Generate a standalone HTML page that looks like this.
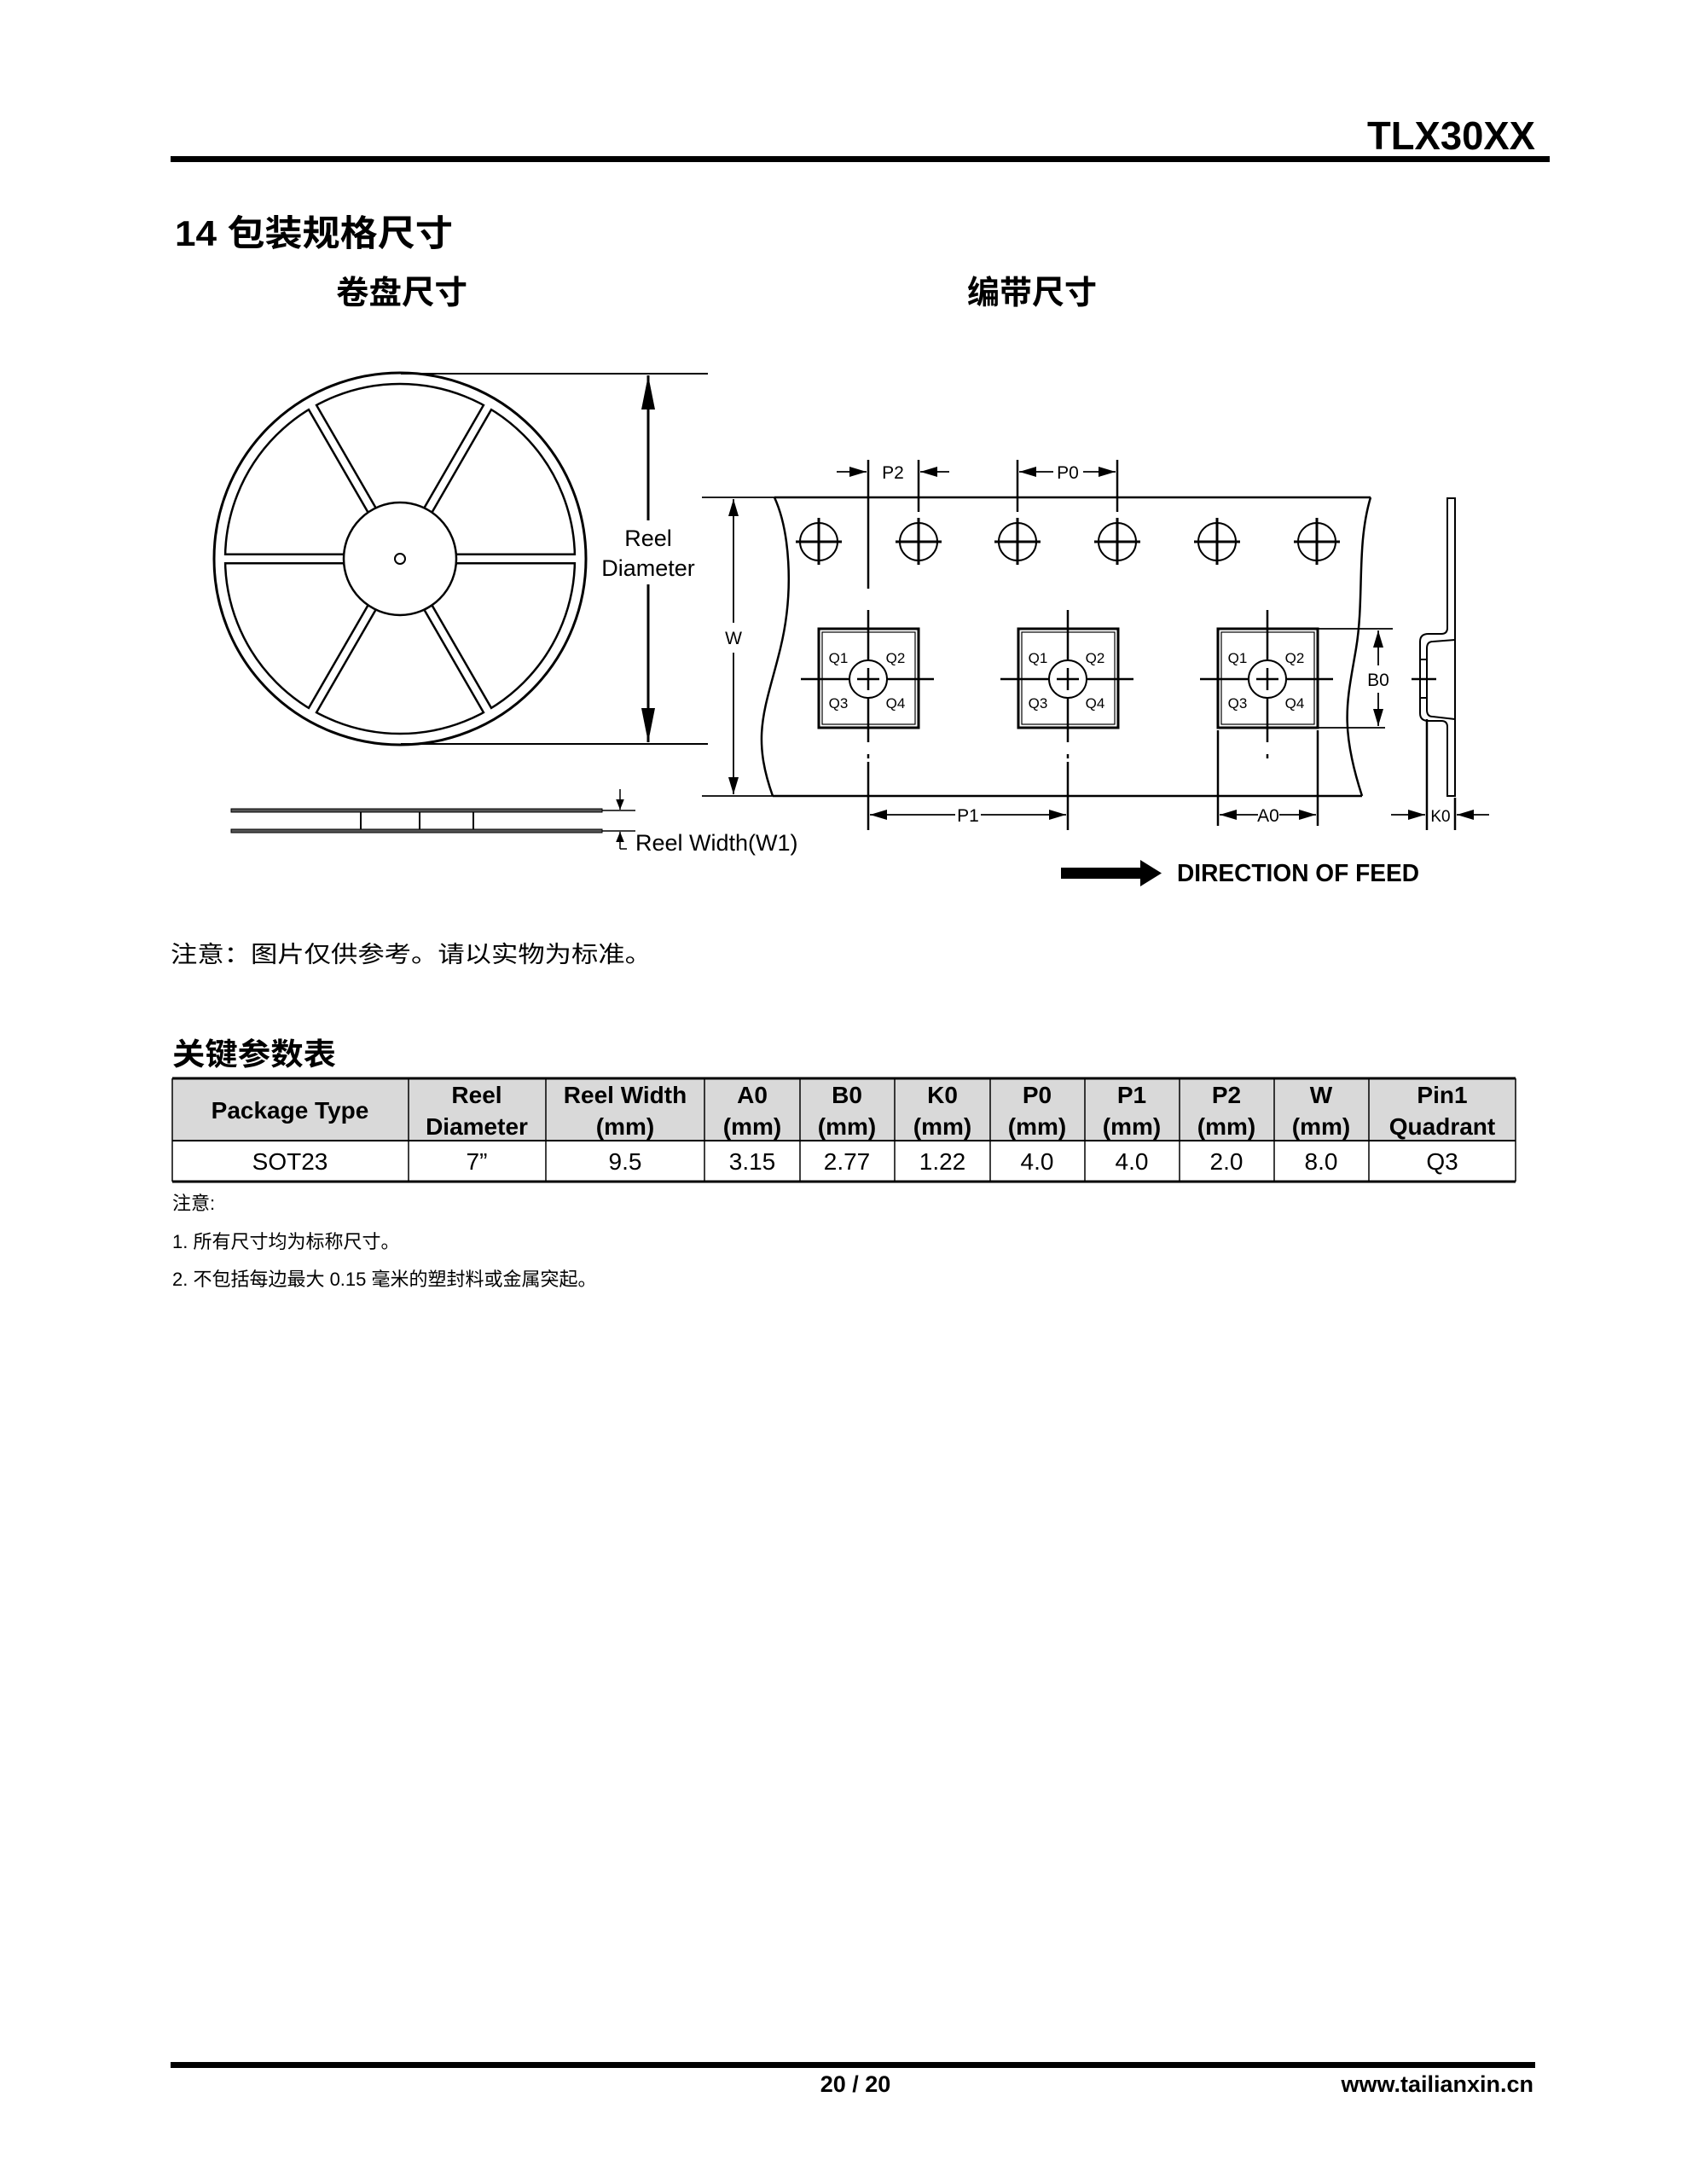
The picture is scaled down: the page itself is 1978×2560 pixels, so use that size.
<!DOCTYPE html>
<html><head><meta charset="utf-8"><style>
html,body{margin:0;padding:0;background:#fff}
svg{display:block}
text{font-family:"Liberation Sans","Noto Sans CJK SC",sans-serif;fill:#000}
</style></head><body>
<svg width="1978" height="2560" viewBox="0 0 1978 2560" xmlns="http://www.w3.org/2000/svg">
<defs>
<marker id="ar" viewBox="0 0 10 10" refX="10" refY="5" markerWidth="12" markerHeight="12" markerUnits="userSpaceOnUse" orient="auto"><path d="M0,1 L10,5 L0,9 Z" fill="#000"/></marker>
<marker id="ab" viewBox="0 0 10 10" refX="10" refY="5" markerWidth="20" markerHeight="20" markerUnits="userSpaceOnUse" orient="auto"><path d="M0,2 L10,5 L0,8 Z" fill="#000"/></marker>
<marker id="abig" viewBox="0 0 10 10" refX="10" refY="5" markerWidth="40" markerHeight="40" markerUnits="userSpaceOnUse" orient="auto"><path d="M0,3 L10,5 L0,7 Z" fill="#000"/></marker>
</defs>
<!-- header -->
<text x="1800" y="175" font-size="46" font-weight="bold" text-anchor="end" textLength="197" lengthAdjust="spacingAndGlyphs">TLX30XX</text>
<rect x="200" y="183" width="1617" height="7" fill="#000"/>
<text x="205" y="288" font-size="42" font-weight="bold" textLength="326" lengthAdjust="spacingAndGlyphs">14 包装规格尺寸</text>
<text x="394" y="356" font-size="38" font-weight="bold" textLength="154" lengthAdjust="spacingAndGlyphs">卷盘尺寸</text>
<text x="1134" y="356" font-size="38" font-weight="bold" textLength="152" lengthAdjust="spacingAndGlyphs">编带尺寸</text>

<!-- reel -->
<g fill="none" stroke="#000">
<circle cx="469" cy="655" r="218" stroke-width="3"/>
<circle cx="469" cy="655" r="205" stroke-width="2.5" fill="#fff"/>
</g>
<g transform="translate(469,655)">
<g stroke="#000" stroke-width="13">
<line x1="0" y1="0" x2="205" y2="0"/><line x1="0" y1="0" x2="-205" y2="0"/>
<line x1="0" y1="0" x2="102.5" y2="177.5"/><line x1="0" y1="0" x2="-102.5" y2="177.5"/>
<line x1="0" y1="0" x2="102.5" y2="-177.5"/><line x1="0" y1="0" x2="-102.5" y2="-177.5"/>
</g>
<g stroke="#fff" stroke-width="8">
<line x1="0" y1="0" x2="208" y2="0"/><line x1="0" y1="0" x2="-208" y2="0"/>
<line x1="0" y1="0" x2="104" y2="180.1"/><line x1="0" y1="0" x2="-104" y2="180.1"/>
<line x1="0" y1="0" x2="104" y2="-180.1"/><line x1="0" y1="0" x2="-104" y2="-180.1"/>
</g>
<circle cx="0" cy="0" r="66" fill="#fff" stroke="#000" stroke-width="2.5"/>
<circle cx="0" cy="0" r="6" fill="none" stroke="#000" stroke-width="2"/>
</g>
<!-- diameter dim -->
<g stroke="#000" stroke-width="2">
<line x1="470" y1="438" x2="830" y2="438"/>
<line x1="470" y1="872" x2="830" y2="872"/>
<line x1="760" y1="610" x2="760" y2="440" stroke-width="3" marker-end="url(#abig)"/>
<line x1="760" y1="685" x2="760" y2="870" stroke-width="3" marker-end="url(#abig)"/>
</g>
<text x="760" y="640" font-size="27" text-anchor="middle">Reel</text>
<text x="760" y="675" font-size="27" text-anchor="middle">Diameter</text>
<!-- side view -->
<g stroke="#000">
<rect x="271" y="948" width="435" height="4" fill="#555" stroke-width="1"/>
<rect x="271" y="972" width="435" height="4" fill="#555" stroke-width="1"/>
<line x1="423" y1="952" x2="423" y2="972" stroke-width="2"/>
<line x1="492" y1="952" x2="492" y2="972" stroke-width="2"/>
<line x1="555" y1="952" x2="555" y2="972" stroke-width="2"/>
<line x1="706" y1="950" x2="745" y2="950" stroke-width="1.5"/>
<line x1="706" y1="974" x2="745" y2="974" stroke-width="1.5"/>
<line x1="727" y1="925" x2="727" y2="949" stroke-width="1.5" marker-end="url(#ar)"/>
<line x1="727" y1="995" x2="727" y2="975" stroke-width="1.5" marker-end="url(#ar)"/>
<line x1="727" y1="995" x2="735" y2="995" stroke-width="1.5"/>
</g>
<text x="745" y="997" font-size="27">Reel Width(W1)</text>

<!-- tape -->
<g fill="none" stroke="#000" stroke-width="2.5">
<line x1="908" y1="583" x2="1607" y2="583"/>
<line x1="906" y1="933" x2="1597" y2="933"/>
<path d="M908 583 C925 620 932 690 915 760 S880 860 906 933"/>
<path d="M1607 583 C1590 640 1600 700 1590 760 S1570 850 1597 933"/>
</g>
<g stroke="#000" stroke-width="2" fill="none">
<g id="h"><circle cx="960" cy="635" r="22"/><line x1="933" y1="635" x2="987" y2="635" stroke-width="3"/><line x1="960" y1="607" x2="960" y2="662" stroke-width="3"/></g>
<use href="#h" x="117"/><use href="#h" x="233"/><use href="#h" x="350"/><use href="#h" x="467"/><use href="#h" x="584"/>
</g>
<!-- dimension lines top -->
<g stroke="#000" stroke-width="2.5">
<line x1="1018" y1="539" x2="1018" y2="690"/>
<line x1="1077" y1="539" x2="1077" y2="600"/>
<line x1="1193" y1="539" x2="1193" y2="600"/>
<line x1="1310" y1="539" x2="1310" y2="600"/>
</g>
<g stroke="#000" stroke-width="1.8">
<line x1="981" y1="553" x2="1016" y2="553" marker-end="url(#ab)"/>
<line x1="1113" y1="553" x2="1079" y2="553" marker-end="url(#ab)"/>
<line x1="1235" y1="553" x2="1195" y2="553" marker-end="url(#ab)"/>
<line x1="1270" y1="553" x2="1308" y2="553" marker-end="url(#ab)"/>
</g>
<text x="1047" y="561" font-size="21" text-anchor="middle">P2</text>
<rect x="1236" y="540" width="33" height="26" fill="#fff"/>
<text x="1252" y="561" font-size="21" text-anchor="middle">P0</text>
<!-- pockets -->
<g id="pk" fill="none" stroke="#000">
<rect x="960" y="737" width="117" height="116" stroke-width="3"/>
<rect x="964" y="741" width="109" height="108" stroke-width="1.2"/>
<line x1="939" y1="796" x2="1095" y2="796" stroke-width="2.5"/>
<line x1="1018" y1="715" x2="1018" y2="870" stroke-width="2.5"/>
<circle cx="1018" cy="796" r="22" fill="#fff" stroke-width="2"/>
<line x1="1005" y1="796" x2="1031" y2="796" stroke-width="2.5"/>
<line x1="1018" y1="783" x2="1018" y2="809" stroke-width="2.5"/>
<line x1="1018" y1="884" x2="1018" y2="889" stroke-width="2.5"/>
<text x="983" y="777" font-size="17" stroke="none" text-anchor="middle">Q1</text>
<text x="1050" y="777" font-size="17" stroke="none" text-anchor="middle">Q2</text>
<text x="983" y="830" font-size="17" stroke="none" text-anchor="middle">Q3</text>
<text x="1050" y="830" font-size="17" stroke="none" text-anchor="middle">Q4</text>
</g>
<use href="#pk" x="234"/><use href="#pk" x="468"/>
<!-- P1, A0 -->
<g stroke="#000" stroke-width="2.5">
<line x1="1018" y1="893" x2="1018" y2="973"/>
<line x1="1252" y1="893" x2="1252" y2="973"/>
<line x1="1428" y1="856" x2="1428" y2="968"/>
<line x1="1545" y1="856" x2="1545" y2="968"/>
</g>
<g stroke="#000" stroke-width="1.8">
<line x1="1120" y1="955" x2="1020" y2="955" marker-end="url(#ab)"/>
<line x1="1150" y1="955" x2="1250" y2="955" marker-end="url(#ab)"/>
<line x1="1475" y1="955" x2="1430" y2="955" marker-end="url(#ab)"/>
<line x1="1500" y1="955" x2="1543" y2="955" marker-end="url(#ab)"/>
</g>
<text x="1135" y="963" font-size="21" text-anchor="middle">P1</text>
<text x="1487" y="963" font-size="21" text-anchor="middle">A0</text>
<!-- W -->
<g stroke="#000" stroke-width="1.8">
<line x1="823" y1="583" x2="908" y2="583"/>
<line x1="823" y1="933" x2="906" y2="933"/>
<line x1="860" y1="730" x2="860" y2="585" marker-end="url(#ab)"/>
<line x1="860" y1="765" x2="860" y2="931" marker-end="url(#ab)"/>
</g>
<text x="860" y="755" font-size="21" text-anchor="middle">W</text>
<!-- B0 -->
<g stroke="#000" stroke-width="1.8">
<line x1="1545" y1="737" x2="1633" y2="737"/>
<line x1="1545" y1="853" x2="1624" y2="853"/>
<line x1="1616" y1="780" x2="1616" y2="739" marker-end="url(#ab)"/>
<line x1="1616" y1="812" x2="1616" y2="851" marker-end="url(#ab)"/>
</g>
<text x="1616" y="804" font-size="21" text-anchor="middle">B0</text>
<!-- K0 profile -->
<g fill="none" stroke="#000" stroke-width="2">
<path d="M1697 584 L1706 584 L1706 933 L1697 933 L1697 852 Q1697 845 1690 845 L1675 845 Q1665 845 1665 836 L1665 752 Q1665 743 1675 743 L1690 743 Q1697 743 1697 736 Z"/>
<path d="M1706 750 L1680 752 Q1673 752 1673 760 L1673 832 Q1673 840 1680 840 L1706 843"/>
<line x1="1665" y1="773" x2="1673" y2="773"/><line x1="1665" y1="818" x2="1673" y2="818"/>
<line x1="1655" y1="796" x2="1684" y2="796" stroke-width="2.5"/>
<line x1="1673" y1="843" x2="1673" y2="973" stroke-width="2.5"/>
<line x1="1706" y1="935" x2="1706" y2="973" stroke-width="2.5"/>
</g>
<g stroke="#000" stroke-width="1.8">
<line x1="1631" y1="955" x2="1671" y2="955" marker-end="url(#ab)"/>
<line x1="1746" y1="955" x2="1708" y2="955" marker-end="url(#ab)"/>
</g>
<text x="1689" y="963" font-size="19" text-anchor="middle">K0</text>
<!-- direction -->
<rect x="1244" y="1017" width="95" height="13" fill="#000"/>
<path d="M1337 1008 L1362 1023.5 L1337 1039 Z" fill="#000"/>
<text x="1380" y="1033" font-size="29" font-weight="bold" textLength="284" lengthAdjust="spacingAndGlyphs">DIRECTION OF FEED</text>

<text x="200" y="1128" font-size="27" textLength="564" lengthAdjust="spacingAndGlyphs">注意：图片仅供参考。请以实物为标准。</text>
<text x="202" y="1248" font-size="36" font-weight="bold" textLength="192" lengthAdjust="spacingAndGlyphs">关键参数表</text>

<!-- table -->
<rect x="202" y="1265" width="1575" height="72" fill="#d9d9d9"/>
<g stroke="#000" fill="none">
<line x1="202" y1="1264" x2="1777" y2="1264" stroke-width="3"/>
<line x1="202" y1="1337" x2="1777" y2="1337" stroke-width="2"/>
<line x1="202" y1="1385" x2="1777" y2="1385" stroke-width="3"/>
<g stroke-width="1.5">
<line x1="202" y1="1264" x2="202" y2="1385"/><line x1="479" y1="1264" x2="479" y2="1385"/>
<line x1="640" y1="1264" x2="640" y2="1385"/><line x1="826" y1="1264" x2="826" y2="1385"/>
<line x1="938" y1="1264" x2="938" y2="1385"/><line x1="1049" y1="1264" x2="1049" y2="1385"/>
<line x1="1161" y1="1264" x2="1161" y2="1385"/><line x1="1272" y1="1264" x2="1272" y2="1385"/>
<line x1="1383" y1="1264" x2="1383" y2="1385"/><line x1="1494" y1="1264" x2="1494" y2="1385"/>
<line x1="1605" y1="1264" x2="1605" y2="1385"/><line x1="1777" y1="1264" x2="1777" y2="1385"/>
</g>
</g>
<g font-size="28" font-weight="bold" text-anchor="middle">
<text x="340" y="1311">Package Type</text>
<text x="559" y="1293">Reel</text><text x="559" y="1330">Diameter</text>
<text x="733" y="1293">Reel Width</text><text x="733" y="1330">(mm)</text>
<text x="882" y="1293">A0</text><text x="882" y="1330">(mm)</text>
<text x="993" y="1293">B0</text><text x="993" y="1330">(mm)</text>
<text x="1105" y="1293">K0</text><text x="1105" y="1330">(mm)</text>
<text x="1216" y="1293">P0</text><text x="1216" y="1330">(mm)</text>
<text x="1327" y="1293">P1</text><text x="1327" y="1330">(mm)</text>
<text x="1438" y="1293">P2</text><text x="1438" y="1330">(mm)</text>
<text x="1549" y="1293">W</text><text x="1549" y="1330">(mm)</text>
<text x="1691" y="1293">Pin1</text><text x="1691" y="1330">Quadrant</text>
</g>
<g font-size="28" text-anchor="middle">
<text x="340" y="1371">SOT23</text><text x="559" y="1371">7”</text>
<text x="733" y="1371">9.5</text><text x="882" y="1371">3.15</text>
<text x="993" y="1371">2.77</text><text x="1105" y="1371">1.22</text>
<text x="1216" y="1371">4.0</text><text x="1327" y="1371">4.0</text>
<text x="1438" y="1371">2.0</text><text x="1549" y="1371">8.0</text>
<text x="1691" y="1371">Q3</text>
</g>
<text x="202" y="1418" font-size="22">注意:</text>
<text x="202" y="1463" font-size="22">1. 所有尺寸均为标称尺寸。</text>
<text x="202" y="1507" font-size="22">2. 不包括每边最大 0.15 毫米的塑封料或金属突起。</text>

<!-- footer -->
<rect x="200" y="2417" width="1600" height="7" fill="#000"/>
<text x="1003" y="2452" font-size="27" font-weight="bold" text-anchor="middle">20 / 20</text>
<text x="1798" y="2452" font-size="27" font-weight="bold" text-anchor="end">www.tailianxin.cn</text>
</svg>
</body></html>
